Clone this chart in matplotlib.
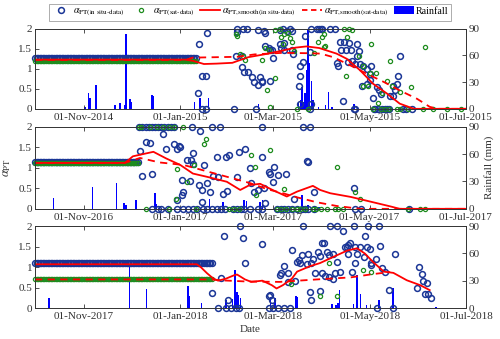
import numpy as np
import matplotlib.pyplot as plt
import matplotlib.dates as mdates
from matplotlib.lines import Line2D
from matplotlib.patches import Patch

plt.rcParams['font.family'] = ['Liberation Serif', 'DejaVu Serif']
plt.rcParams['mathtext.fontset'] = 'stix'
plt.rcParams['font.size'] = 8

# colours
c_insitu = '#1a3596'
c_sat = '#1e8c1e'
c_red = '#ff0000'
c_rain = '#0000ff'
c_axis = '#333333'

# ---------------- 2014/15 season (days after 01-Oct-2014) ----------------
start1 = '2014-10-01'
const1_end = 102
const1_insitu, const1_sat = 1.28, 1.19
insitu1_day = [103, 104, 105.6, 108, 109, 105.5, 108, 126, 128, 132, 134, 128, 127, 131, 131, 132.6, 134.8,
               137.7, 139, 142.6, 143.6, 141, 145, 146, 146, 148, 149, 151, 150, 149, 155, 157, 159.5, 161.6,
               163, 155, 156, 158, 158, 162.7, 163.7, 168, 169.6, 168, 167, 171, 175, 178.5, 180, 181, 174,
               168, 175, 174, 182, 187, 190, 193, 196, 199, 197, 200, 194, 204, 205, 204, 191, 192, 198.5,
               201, 203, 206, 208, 213, 210, 212, 231, 230, 229, 227, 228, 207, 210, 212, 216.5, 218, 214,
               195, 219, 225, 227, 140, 202, 203, 215, 215.5, 217, 220, 222, 223, 224, 233, 235, 238.7,
               141.5, 143.7]
insitu1_val = [0.39, 1.62, 0.82, 0.82, 1.89, 0, 0, 0, 2.0, 2.0, 2.0, 1.92, 1.32, 1.32, 1.04, 0.92, 0.92,
               0.79, 0.67, 0.79, 0.69, 1.96, 1.94, 1.89, 1.58, 1.53, 1.46, 1.28, 1.48, 0.69, 1.96, 2.0, 1.94, 2.0,
               1.94, 1.63, 1.53, 1.64, 1.48, 1.46, 1.38, 1.08, 1.17, 0.81, 0.58, 1.83, 2.0, 2.0, 2.0, 2.0, 1.42,
               0.12, 0.12, 0, 2.0, 2.0, 2.0, 1.67, 1.67, 1.64, 1.48, 1.48, 1.46, 1.61, 1.44, 1.33, 1.14, 1.06, 1.17,
               1.19, 1.13, 1.13, 1.06, 1.06, 1.0, 0.88, 1.32, 0.81, 0.63, 0.56, 0.46, 0.56, 0.63, 0.71, 0.54, 0.46, 0.28,
               0.19, 0.38, 0.33, 0.31, 0, 0, 0, 0, 0, 0, 0, 0, 0, 0, 0, 0, 0,
               0.6, 0.68]
sat1_day = [127, 128, 132, 130, 133, 144, 146, 148, 152, 147, 149, 152, 155, 156, 158, 160, 161.6, 162.7, 157,
            164, 177, 179.5, 181.7, 183, 166, 173, 196, 199, 201, 184, 183, 197.5, 205, 208, 212, 216, 213, 225,
            247, 197, 223, 226, 231, 238, 208, 211, 220, 217.5, 214, 219, 222, 224, 229, 231, 236, 246, 252,
            261, 270]
sat1_val = [1.86, 1.82, 1.32, 1.36, 1.21, 1.22, 1.53, 1.48, 0.77, 0.46, 0.04, 1.96, 2.0, 1.79, 1.87, 1.89, 1.78,
            1.67, 1.63, 1.44, 1.39, 1.67, 1.79, 1.87, 0, 0, 2.0, 2.0, 1.96, 1.58, 1.54, 1.79, 1.33, 1.06, 0.89, 0.89,
            1.61, 1.19, 1.54, 0.81, 0.69, 0.56, 0.42, 0.54, 0.58, 0.56, 0.39, 0.14, 0, 0, 0, 0, 0, 0, 0, 0, 0, 0, 0]
smooth1_day = [0, 95, 100, 107, 115, 125, 135, 145, 155, 165, 172, 180, 191, 197.5, 206, 214, 223, 231, 240, 273]
smooth1_val = [1.23, 1.23, 1.2, 1.12, 1.13, 1.15, 1.29, 1.36, 1.44, 1.53, 1.56, 1.52, 1.38, 1.25, 0.96, 0.63,
               0.38, 0.13, 0, 0]
smsat1_day = [0, 95, 100, 128, 139, 157, 173, 181, 189, 200, 210, 221, 231, 242, 250, 255, 273]
smsat1_val = [1.22, 1.22, 1.28, 1.3, 1.36, 1.4, 1.39, 1.38, 1.29, 1.08, 0.88, 0.67, 0.46, 0.25, 0.05, 0, 0]
rain1_day = [31.7, 33.8, 34.9, 38.7, 50.7, 53.9, 57, 57.7, 60.2, 60.8, 74, 75, 101, 104.6, 110, 141.5, 167, 168,
             169, 170, 171, 172, 173, 174, 175, 176, 179.5, 184, 186, 188, 202, 234]
rain1_mm = [2, 18, 12, 27, 4.5, 7, 4, 84, 11, 8, 15, 14, 8, 12, 12, 5, 8, 10, 24, 8, 18, 44, 95, 51, 31, 10, 2,
            4.5, 19, 2, 5, 4]

# ---------------- 2016/17 season (days after 01-Oct-2016) ----------------
start2 = '2016-10-01'
const2_end = 65
const2_insitu, const2_sat = 1.14, 1.11
insitu2_day = [66, 68, 70, 72, 74, 76, 78, 80, 82, 84, 86, 88, 99.5, 112, 117, 143.6, 170, 174,
               70, 73, 66.5, 68, 74, 81, 83, 88, 90, 92, 91, 93, 94, 93, 90, 99, 100, 104.6, 107, 105.6, 113,
               96, 100, 98, 104, 109, 111, 106, 115, 121, 123, 116, 119, 121.5, 129, 133, 128, 136, 144, 137,
               139, 141, 145, 146, 148.5, 149, 150.6, 151.5, 154, 159, 164, 172, 173, 177, 202,
               74, 78, 80, 84, 90, 94, 97, 100, 102.5, 106.6, 109, 112, 115, 118, 120.4, 125.7, 128, 130.7,
               132.4, 136, 141.5, 143.6, 153, 156, 158, 160.5, 162.7, 166, 169, 171, 173, 177, 203, 206.6, 236.6]
insitu2_val = [2.0] * 18 + \
              [1.64, 1.6, 1.4, 0.79, 0.85, 1.83, 1.46, 1.59, 1.47, 1.51, 1.54, 0.71, 0.42, 0.33, 0.22, 1.2, 1.37,
               1.89, 1.07, 0.46, 0.79, 1.19, 1.1, 0.68, 0.59, 0.62, 0.41, 0.17, 1.27, 1.27, 1.32, 0.78, 0.35, 0.43,
               1.39, 1.47, 0.78, 1.0, 1.27, 0.62, 0.41, 0.46, 0.5, 0.13, 0.9, 0.84, 0.66, 1.02, 0.82, 0.86, 0.24,
               1.16, 1.13, 0.4, 0.5] + [0] * 35
sat2_day = [66, 67, 73, 77.5, 81, 85, 88, 94, 107, 108, 101, 90, 96, 89, 137, 139.5, 149, 140, 158, 191.6, 203,
            206, 70, 85, 102, 123, 126, 129, 153, 156, 159, 163, 166, 168, 171, 176, 178, 181, 185, 190, 192,
            195, 236, 244, 247]
sat2_val = [2.0] * 8 + [1.59, 1.7, 1.08, 0.98, 0.66, 0.24, 1.31, 1.02, 1.43, 0.33, 0.48, 1.03, 0.4, 0.24] + [0] * 23
smooth2_day = [0, 57, 62, 75, 83, 92, 100, 109, 121.5, 130, 136, 142.6, 151, 159.5, 166, 176, 180.6, 187, 200,
               212, 225, 231, 273]
smooth2_val = [1.12, 1.12, 1.28, 1.39, 1.23, 1.07, 0.86, 0.78, 0.66, 0.46, 0.58, 0.61, 0.45, 0.3, 0.42, 0.56,
               0.46, 0.38, 0.29, 0.18, 0.06, 0, 0]
smsat2_day = [0, 57, 66.5, 79, 94, 115, 136, 147, 157, 166, 178.5, 191, 206, 273]
smsat2_val = [1.12, 1.12, 1.24, 1.13, 1.07, 0.85, 0.63, 0.48, 0.38, 0.28, 0.16, 0.07, 0, 0]
rain2_day = [11.6, 36.3, 51.8, 56.4, 57.7, 64, 76, 77, 79, 110.5, 119, 132.5, 134, 142.6, 144, 169, 173, 180]
rain2_mm = [12, 24, 28, 6.5, 4, 10, 17, 5, 3, 10.6, 8, 9.5, 8.5, 7.7, 10, 15, 4, 2]

# ---------------- 2017/18 season (days after 01-Oct-2017) ----------------
start3 = '2017-10-01'
const3_end = 112
const3_insitu, const3_sat = 1.09, 0.7
insitu3_day = [112, 117.7, 120, 122, 130, 131.6, 133, 143.6, 149, 150, 148, 155, 156, 160.5, 160, 165, 158,
               162.7, 166, 167.5, 168, 169, 173, 172, 176, 179.5, 180.6, 177.5, 182, 184, 170, 187, 191.5, 195,
               183, 186, 189, 174, 175, 180.6, 186.5, 190, 193, 188.7, 196.5, 198.5, 202, 211, 218, 209, 197.5,
               199.6, 198, 203, 206, 210, 208.5, 204, 203, 212, 213, 212.7, 216, 220, 222, 218.6, 228, 200.7,
               224, 243, 245, 246, 248, 242, 247, 249, 250.7, 175, 181.7, 185, 191,
               116, 121, 124, 127, 129, 148, 151, 154, 158, 161.6, 216.5, 227]
insitu3_val = [0.36, 0.74, 1.76, 0.2, 2.0, 1.7, 1.11, 1.56, 0.32, 0.2, 0.3, 0.8, 0.85, 0.85, 0.64, 0.67, 1.02,
               1.41, 1.13, 1.17, 1.1, 1.29, 1.33, 1.07, 1.21, 1.37, 1.27, 0.85, 0.86, 0.78, 2.0, 2.0, 2.0, 1.89,
               1.58, 1.29, 1.33, 0.4, 0.2, 0.42, 0.75, 0.86, 0.89, 0.7, 1.48, 1.54, 2.0, 2.0, 2.0, 1.76, 1.5,
               1.59, 1.33, 1.5, 1.5, 1.5, 1.25, 1.31, 1.11, 1.43, 1.1, 1.05, 1.19, 0.98, 0.89, 1.51, 1.33, 0.87,
               0.44, 1.0, 0.83, 0.66, 0.62, 0.48, 0.34, 0.34, 0.24, 1.09, 1.58, 1.37, 1.13] + [0] * 12
sat3_day = [162, 186, 180.6, 191, 208, 212.7]
sat3_val = [0.59, 1.1, 0.29, 0.29, 0.94, 0.89]
smooth3_day = [0, 102.5, 105, 109, 113, 116, 121, 126, 128, 133, 137, 144, 150, 153, 157, 162.7, 166, 174,
               180.6, 189, 197.5, 204, 209, 214, 221, 227, 235.5, 244, 250]
smooth3_val = [1.07, 1.07, 1.0, 0.85, 0.72, 0.67, 0.72, 0.8, 0.82, 0.7, 0.64, 0.67, 0.56, 0.48, 0.56, 0.72,
               0.89, 1.02, 1.1, 1.25, 1.4, 1.46, 1.33, 1.13, 0.89, 0.86, 0.68, 0.56, 0.44]
smsat3_day = [0, 112, 117, 134, 155, 178.5, 200, 214, 225]
smsat3_val = [0.7, 0.7, 0.68, 0.65, 0.64, 0.7, 0.75, 0.83, 0.88]
rain3_day = [9, 60, 70.8, 96.8, 98, 105.6, 121, 125, 126.7, 128, 129, 130, 149, 152, 165.4, 166, 188, 190.7,
             192, 193, 201.7, 204, 206, 210, 217.5, 218, 226.7, 254]
rain3_mm = [10.6, 45, 20.5, 24, 13, 6, 9, 9.5, 42, 18, 14, 10.6, 12, 10.6, 13, 12, 4.4, 3, 6, 20, 5, 36, 16, 3,
            8, 9, 21.6, 1]

seasons = [
    (start1, const1_end, const1_insitu, const1_sat, insitu1_day, insitu1_val, sat1_day, sat1_val,
     smooth1_day, smooth1_val, smsat1_day, smsat1_val, rain1_day, rain1_mm),
    (start2, const2_end, const2_insitu, const2_sat, insitu2_day, insitu2_val, sat2_day, sat2_val,
     smooth2_day, smooth2_val, smsat2_day, smsat2_val, rain2_day, rain2_mm),
    (start3, const3_end, const3_insitu, const3_sat, insitu3_day, insitu3_val, sat3_day, sat3_val,
     smooth3_day, smooth3_val, smsat3_day, smsat3_val, rain3_day, rain3_mm),
]

fig = plt.figure(figsize=(5.0, 3.39), dpi=100)
# [left, bottom, width, height] in figure fraction
boxes = [[0.07, 0.679, 0.862, 0.236],
         [0.07, 0.384, 0.862, 0.242],
         [0.07, 0.091, 0.862, 0.242]]

for i, s in enumerate(seasons):
    (start, cend, cin, csat, ind, inv, sd, sv, smd, smv, ssd, ssv, rd, rm) = s
    base = mdates.date2num(np.datetime64(start))
    end = mdates.date2num(np.datetime64(str(int(start[:4]) + 1) + '-07-01'))
    cdays = np.arange(0, cend + 1)

    ax = fig.add_axes(boxes[i])
    ax2 = ax.twinx()

    # rainfall on right axis
    ax2.bar(base + np.asarray(rd), rm, width=0.9, color=c_rain, linewidth=0)
    ax2.set_ylim(0, 90)
    ax2.set_yticks([0, 30, 60, 90])

    ax.set_zorder(ax2.get_zorder() + 1)
    ax.patch.set_visible(False)

    # constant period
    ax.plot(base + cdays, np.full(cdays.size, cin), 'o', mfc='none', mec=c_insitu, ms=4.2, mew=1.1,
            clip_on=False)
    ax.plot(base + cdays, np.full(cdays.size, csat), 'o', mfc='none', mec=c_sat, ms=3.0, mew=0.9,
            clip_on=False)
    # observations
    ax.plot(base + np.asarray(ind), inv, 'o', mfc='none', mec=c_insitu, ms=4.2, mew=1.1, clip_on=False)
    ax.plot(base + np.asarray(sd), sv, 'o', mfc='none', mec=c_sat, ms=3.0, mew=0.9, clip_on=False)
    # smoothed
    ax.plot(base + np.asarray(smd), smv, '-', color=c_red, lw=1.3)
    ax.plot(base + np.asarray(ssd), ssv, '--', color=c_red, lw=1.3, dashes=(4, 3))

    ax.set_xlim(base, end)
    ax.set_ylim(0, 2)
    ax.set_yticks([0, 0.5, 1, 1.5, 2])
    ax.set_yticklabels(['0', '0.5', '1', '1.5', '2'])
    ax.xaxis.set_major_locator(mdates.MonthLocator(bymonth=[1, 3, 5, 7, 9, 11]))
    ax.xaxis.set_major_formatter(mdates.DateFormatter('%d-%b-%Y'))

    for a in (ax, ax2):
        for sp in a.spines.values():
            sp.set_color(c_axis)
            sp.set_linewidth(0.6)
        a.tick_params(direction='in', length=3, width=0.6, colors=c_axis, labelsize=8, pad=2)
    ax.tick_params(top=True, right=False)
    ax.tick_params(axis='x', pad=3)

    if i == 1:
        ax.set_ylabel(r'$\alpha_{\mathrm{PT}}$', fontsize=9, color=c_axis, labelpad=4)
        ax2.set_ylabel('Rainfall (mm)', fontsize=8, color=c_axis, labelpad=3)
    if i == 2:
        ax.set_xlabel('Date', fontsize=8, color=c_axis, labelpad=3)

handles = [
    Line2D([], [], ls='none', marker='o', mfc='none', mec=c_insitu, ms=4.2, mew=1.1),
    Line2D([], [], ls='none', marker='o', mfc='none', mec=c_sat, ms=3.0, mew=0.9),
    Line2D([], [], color=c_red, lw=1.3),
    Line2D([], [], color=c_red, lw=1.3, ls='--', dashes=(3, 2)),
    Patch(facecolor=c_rain, edgecolor='none'),
]
labels = [r'$\alpha_{\text{PT(in situ-data)}}$',
          r'$\alpha_{\text{PT(sat-data)}}$',
          r'$\alpha_{\text{PT,smooth(in situ-data)}}$',
          r'$\alpha_{\text{PT,smooth(sat-data)}}$',
          'Rainfall']
leg = fig.legend(handles, labels, loc='upper center', bbox_to_anchor=(0.5, 0.995), ncol=5,
                 fontsize=7.2, frameon=True, fancybox=False, edgecolor='#888888',
                 handlelength=2.0, handleheight=0.9, handletextpad=0.2, columnspacing=0.6,
                 borderpad=0.25, borderaxespad=0.2)
leg.get_frame().set_linewidth(0.6)

fig.savefig('out.png', dpi=100)
